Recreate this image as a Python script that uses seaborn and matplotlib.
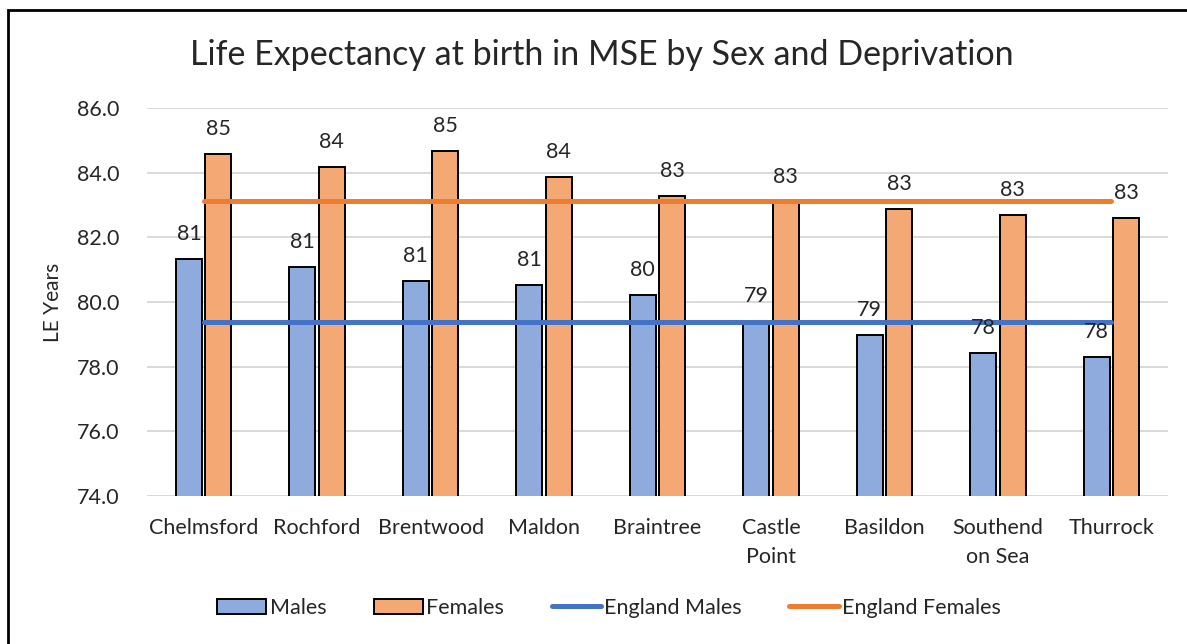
import matplotlib
matplotlib.use("Agg")
import matplotlib.pyplot as plt
import seaborn as sns
import pandas as pd
from matplotlib.patches import Patch
from matplotlib.lines import Line2D

# data
areas = ["Chelmsford", "Rochford", "Brentwood", "Maldon", "Braintree",
         "Castle\nPoint", "Basildon", "Southend\non Sea", "Thurrock"]
males = [81.32, 81.08, 80.64, 80.52, 80.23, 79.42, 78.99, 78.42, 78.31]
females = [84.59, 84.18, 84.68, 83.88, 83.27, 83.1, 82.89, 82.68, 82.59]
england_males = 79.38
england_females = 83.12

df = pd.DataFrame({
    "area": areas * 2,
    "sex": ["Males"] * len(areas) + ["Females"] * len(areas),
    "le": males + females,
})

blue_bar, orange_bar = "#8FAADC", "#F4A874"
blue_line, orange_line = "#4472C4", "#ED7D31"

sns.set_style("white")
plt.rcParams["font.family"] = ["Lato", "DejaVu Sans"]

fig = plt.figure(figsize=(11.87, 6.44), dpi=100)
ax = fig.add_axes([0.1238, 0.2298, 0.984 - 0.1238, 0.8323 - 0.2298])

sns.barplot(data=df, x="area", y="le", hue="sex", order=areas,
            palette=[blue_bar, orange_bar], saturation=1, width=0.52, gap=0.12,
            edgecolor="black", linewidth=1.4, legend=False, ax=ax, zorder=2)

# england reference lines across category centres
xs = [0, len(areas) - 1]
ax.plot(xs, [england_males] * 2, color=blue_line, lw=3.6,
        solid_capstyle="round", zorder=3)
ax.plot(xs, [england_females] * 2, color=orange_line, lw=3.6,
        solid_capstyle="round", zorder=3)

# data labels
for cont in ax.containers:
    for bar in cont:
        h = bar.get_height()
        ax.annotate(f"{h:.0f}", (bar.get_x() + bar.get_width() / 2, h),
                    xytext=(0, 18), textcoords="offset points",
                    ha="center", va="center", fontsize=15.5, zorder=4)

ax.set_ylim(74, 86)
ax.set_yticks([74, 76, 78, 80, 82, 84, 86])
ax.set_yticklabels([f"{v:.1f}" for v in [74, 76, 78, 80, 82, 84, 86]])
ax.set_xlim(-0.5, len(areas) - 0.5)
ax.yaxis.grid(True, color="#D9D9D9", lw=1.4, zorder=0)
ax.set_axisbelow(True)
for s in ["top", "right", "left", "bottom"]:
    ax.spines[s].set_visible(False)
ax.tick_params(axis="both", length=0, labelsize=15.5)
ax.tick_params(axis="y", pad=20)
ax.tick_params(axis="x", pad=16)
for lbl in ax.get_xticklabels():
    lbl.set_linespacing(1.55)
ax.set_xlabel("")
ax.set_ylabel("LE Years", fontsize=15, labelpad=10)

fig.text(0.507, 0.915, "Life Expectancy at birth in MSE by Sex and Deprivation",
         ha="center", va="center", fontsize=24.5)

handles = [
    Patch(facecolor=blue_bar, edgecolor="black", lw=1.4, label="Males"),
    Patch(facecolor=orange_bar, edgecolor="black", lw=1.4, label="Females"),
    Line2D([], [], color=blue_line, lw=3.6, solid_capstyle="round", label="England Males"),
    Line2D([], [], color=orange_line, lw=3.6, solid_capstyle="round", label="England Females"),
]
fig.legend(handles=handles, loc="center", bbox_to_anchor=(0.513, 0.056), ncol=4,
           frameon=False, fontsize=15.5, handlelength=2.3, handleheight=0.7,
           handletextpad=0.15, columnspacing=2.2)

# chart area border
fig.add_artist(plt.Rectangle((0.0067, -0.05), 1.2, 1.035, transform=fig.transFigure,
                             fill=False, edgecolor="black", lw=2))

fig.savefig("out.png", dpi=100)
